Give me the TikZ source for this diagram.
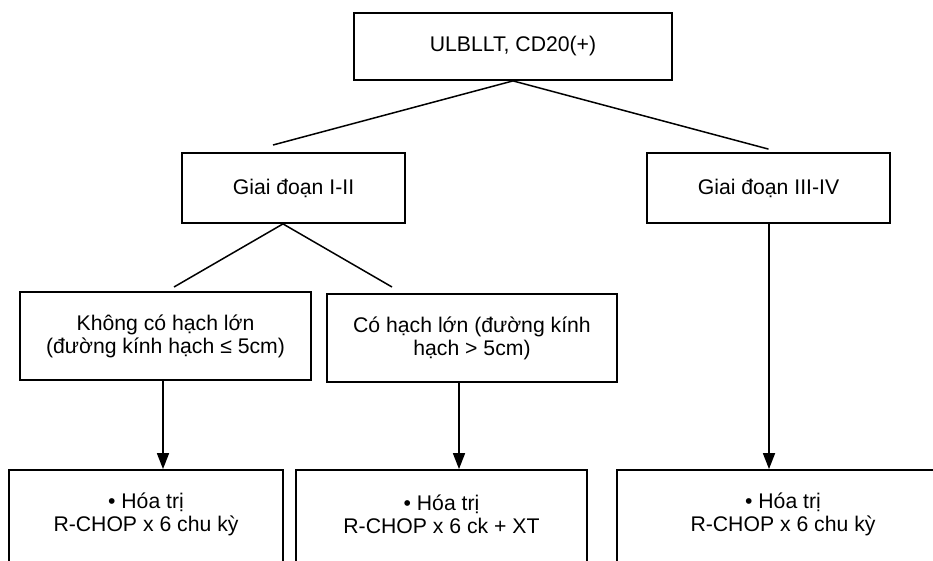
\documentclass[tikz,border=0pt]{standalone}
\usepackage{fontspec}
\setmainfont{Liberation Sans}
\usetikzlibrary{arrows.meta}
\begin{document}
\begin{tikzpicture}[x=1pt,y=-1pt,
  font=\fontsize{21.2}{23}\selectfont,
  box/.style={draw=black, line width=1.8pt, inner sep=0pt, align=center},
  txt/.style={inner sep=0pt, align=center},
  link/.style={line width=1.5pt},
  arr/.style={line width=1.7pt, -{Triangle[length=16pt,width=12pt]}}]
\useasboundingbox (0,0) rectangle (933,561);

% top level
\node[box, minimum width=318pt, minimum height=67pt] (top) at (513,46.5) {ULBLLT, CD20(+)};

% stages
\node[box, minimum width=223pt, minimum height=70pt] (g12) at (293.5,188) {Giai đoạn I-II};
\node[box, minimum width=243pt, minimum height=70pt] (g34) at (768.5,188) {Giai đoạn III-IV};

% lymph node size
\node[box, minimum width=291pt, minimum height=88pt] (small) at (165.5,336) {Không có hạch lớn\\(đường kính hạch ≤ 5cm)};
\node[box, minimum width=290pt, minimum height=88pt] (large) at (472,338) {Có hạch lớn (đường kính\\hạch > 5cm)};

% treatment boxes (run past the lower edge)
\node[box, minimum width=274pt, minimum height=120pt] (b1) at (146,530) {};
\node[box, minimum width=291pt, minimum height=120pt] (b2) at (441.5,530) {};
\node[box, minimum width=332pt, minimum height=120pt] (b3) at (783,530) {};
\node[txt] (t1) at (146,514) {• Hóa trị\\R-CHOP x 6 chu kỳ};
\node[txt] (t2) at (441.5,514) {• Hóa trị\\R-CHOP x 6 ck + XT};
\node[txt] (t3) at (783,514) {• Hóa trị\\R-CHOP x 6 chu kỳ};

% branch end points
\coordinate (e12) at (273,145);
\coordinate (s12) at ([xshift=-10.5pt]g12.south);
\coordinate (eS) at (174,287);
\coordinate (eL) at (392,287);

% connectors
\draw[link] (top.south) -- (e12);
\draw[link] (top.south) -- ([yshift=3pt]g34.north);
\draw[link] (s12) -- (eS);
\draw[link] (s12) -- (eL);

\draw[arr] ([xshift=-2.5pt]small.south) -- ([xshift=-2.5pt]small.south |- b1.north);
\draw[arr] ([xshift=-13pt]large.south) -- ([xshift=-13pt]large.south |- b2.north);
\draw[arr] ([xshift=0.5pt]g34.south) -- ([xshift=0.5pt]g34.south |- b3.north);
\end{tikzpicture}
\end{document}
